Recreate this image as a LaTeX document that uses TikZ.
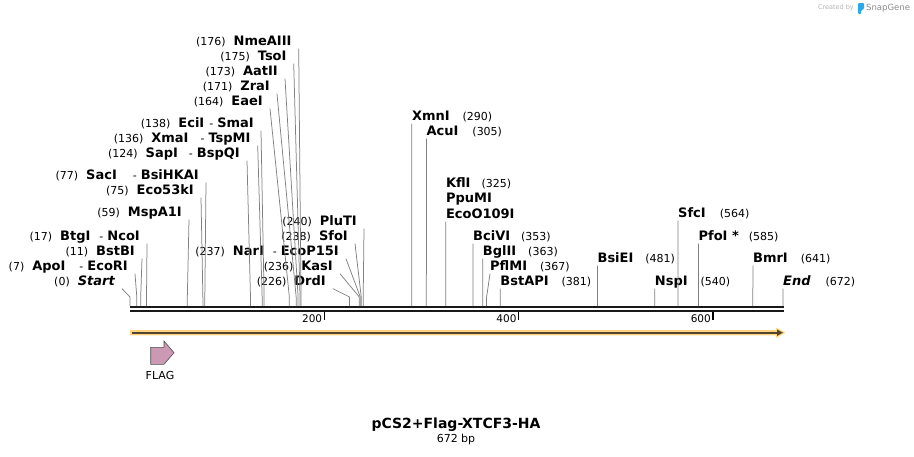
\documentclass[tikz,border=0pt]{standalone}
\usepackage{fontspec}
\setmainfont{DejaVu Sans}
\usepackage{tikz}
\usetikzlibrary{positioning}
\usetikzlibrary{arrows.meta}
\definecolor{cutgray}{RGB}{128,128,128}
\definecolor{featfill}{RGB}{255,211,128}
\definecolor{featline}{RGB}{85,68,45}
\definecolor{flagpink}{RGB}{204,153,180}
\definecolor{snapblue}{RGB}{40,170,230}
\newcommand{\enz}[1]{{\fontsize{13}{15}\selectfont\bfseries #1}}

\begin{document}
\begin{tikzpicture}[x=1pt, y=-1pt,
    lsite/.style={anchor=east, inner xsep=7pt, inner ysep=0pt,
        text height=10pt, text depth=3pt, font=\fontsize{11}{15}\selectfont},
    rsite/.style={anchor=west, inner xsep=0pt, inner ysep=0pt,
        text height=10pt, text depth=3pt, font=\fontsize{11}{15}\selectfont},
    cutline/.style={draw=cutgray, line width=0.75pt},
    ruler/.style={line width=2.4pt, black!90}
]
\useasboundingbox (0,0) rectangle (914,456);

% cut sites on the sequence (bp)
\foreach \p in {0,7,11,17,59,75,77,124,136,138,164,171,173,175,176,
                226,236,237,238,240,290,305,325,353,363,367,381,
                481,540,564,585,641,672} {
    \coordinate (s\p) at ({130+0.9717*\p},306);
    \coordinate (k\p) at ({130+0.9717*\p},297);
}

% sequence and ruler
\draw[ruler] (130,307.2) -- (783.5,307.2);
\draw[ruler] (130,311.2) -- (783.5,311.2);
\foreach \t in {200,400,600} {
    \draw[line width=1.4pt] ({130+0.9717*\t},312) -- ({130+0.9717*\t},320);
    \node[anchor=east, inner sep=1pt, font=\fontsize{10.5}{12}\selectfont]
        (tick\t) at ({130+0.9717*\t-1},318.5) {\t};
}

% enzymes, left of their cut
\node[lsite] (nmeaiii) at (298.7,42)  {(176)\hspace{8pt}\enz{NmeAIII}};
\node[lsite] (tsoi)    at (293.7,57)  {(175)\hspace{8pt}\enz{TsoI}};
\node[lsite] (aatii)   at (285,72)    {(173)\hspace{8pt}\enz{AatII}};
\node[lsite] (zrai)    at (277,87)    {(171)\hspace{8pt}\enz{ZraI}};
\node[lsite] (eaei)    at (270,102)   {(164)\hspace{8pt}\enz{EaeI}};
\node[lsite] (smai)    at (261,124)   {(138)\hspace{8pt}\enz{EciI}\hspace{5pt}-\hspace{4pt}\enz{SmaI}};
\node[lsite] (tspmi)   at (257.7,139) {(136)\hspace{8pt}\enz{XmaI}\hspace{12pt}-\hspace{4pt}\enz{TspMI}};
\node[lsite] (bspqi)   at (247,154)   {(124)\hspace{8pt}\enz{SapI}\hspace{11pt}-\hspace{4pt}\enz{BspQI}};
\node[lsite] (bsihkai) at (206,176)   {(77)\hspace{8pt}\enz{SacI}\hspace{16pt}-\hspace{4pt}\enz{BsiHKAI}};
\node[lsite] (eco53ki) at (201,191)   {(75)\hspace{8pt}\enz{Eco53kI}};
\node[lsite] (mspa1i)  at (189,213)   {(59)\hspace{8pt}\enz{MspA1I}};
\node[lsite] (ncoi)    at (147,237)   {(17)\hspace{8pt}\enz{BtgI}\hspace{9pt}-\hspace{4pt}\enz{NcoI}};
\node[lsite] (bstbi)   at (142,252)   {(11)\hspace{8pt}\enz{BstBI}};
\node[lsite] (ecori)   at (135,267)   {(7)\hspace{8pt}\enz{ApoI}\hspace{14pt}-\hspace{4pt}\enz{EcoRI}};
\node[lsite] (start)   at (122,282)   {(0)\hspace{8pt}\enz{\itshape Start}};

\node[lsite] (pluti)   at (364,222)   {(240)\hspace{8pt}\enz{PluTI}};
\node[lsite] (sfoi)    at (355,237)   {(238)\hspace{8pt}\enz{SfoI}};
\node[lsite] (ecop15i) at (346,252)   {(237)\hspace{8pt}\enz{NarI}\hspace{9pt}-\hspace{4pt}\enz{EcoP15I}};
\node[lsite] (kasi)    at (340,267)   {(236)\hspace{8pt}\enz{KasI}};
\node[lsite] (drdi)    at (333,282)   {(226)\hspace{8pt}\enz{DrdI}};

\foreach \n/\p in {nmeaiii/176,tsoi/175,aatii/173,zrai/171,eaei/164,
                   smai/138,tspmi/136,bspqi/124,bsihkai/77,eco53ki/75,
                   mspa1i/59,ncoi/17,bstbi/11,ecori/7,start/0,
                   pluti/240,sfoi/238,ecop15i/237,kasi/236,drdi/226}
    \draw[cutline] (\n.south east) -- (k\p) -- (s\p);

% enzymes, right of their cut
\node[rsite] (xmni)    at (411.8,117) {\enz{XmnI}\hspace{13pt}(290)};
\node[rsite] (acui)    at (426.4,132) {\enz{AcuI}\hspace{14pt}(305)};
\node[rsite] (kfli)    at (445.8,184) {\enz{KflI}\hspace{11pt}(325)};
\node[rsite, below=2pt of kfli.south west, anchor=north west] (ppumi) {\enz{PpuMI}};
\node[rsite, below=2pt of ppumi.south west, anchor=north west] (eco109i) {\enz{EcoO109I}};
\node[rsite] (bcivi)   at (473.0,237) {\enz{BciVI}\hspace{11pt}(353)};
\node[rsite] (bglii)   at (482.7,252) {\enz{BglII}\hspace{12pt}(363)};
\node[rsite] (pflmi)   at (490,267)   {\enz{PflMI}\hspace{13pt}(367)};
\node[rsite] (bstapi)  at (500.2,282) {\enz{BstAPI}\hspace{13pt}(381)};
\node[rsite] (bsiei)   at (597.4,259) {\enz{BsiEI}\hspace{12pt}(481)};
\node[rsite] (nspi)    at (654.7,282) {\enz{NspI}\hspace{13pt}(540)};
\node[rsite] (sfci)    at (678.0,214) {\enz{SfcI}\hspace{14pt}(564)};
\node[rsite] (pfoi)    at (698.4,237) {\enz{PfoI *}\hspace{10pt}(585)};
\node[rsite] (bmri)    at (752.9,259) {\enz{BmrI}\hspace{13pt}(641)};
\node[rsite] (endsite) at (783.0,282) {\enz{\itshape End}\hspace{15pt}(672)};

\foreach \n/\p in {xmni/290,acui/305,eco109i/325,bcivi/353,bglii/363,
                   pflmi/367,bstapi/381,bsiei/481,nspi/540,sfci/564,
                   pfoi/585,bmri/641,endsite/672}
    \draw[cutline] (\n.south west) -- (k\p) -- (s\p);

% open reading frame
\fill[featfill] (130,330) -- (776,330) -- (776,327.5) -- (785.5,332.7)
    -- (776,338) -- (776,335.4) -- (130,335.4) -- cycle;
\draw[featline, line width=1.7pt, -{Triangle[length=6pt,width=6pt]}]
    (132,332.7) -- (783,332.7);

% features
\draw[draw=black!70, fill=flagpink, line width=0.6pt]
    (150.7,347.3) -- (164,347.3) -- (164,341) -- (174,352.7)
    -- (164,364.3) -- (150.7,364.3) -- cycle;
\node[font=\fontsize{11}{13}\selectfont] (flag) at (160,375) {FLAG};

% title
\node[inner sep=0pt, font=\fontsize{14}{16}\selectfont\bfseries] (title) at (456,425) {pCS2+Flag-XTCF3-HA};
\node[inner sep=0pt, font=\fontsize{11}{13}\selectfont, below=2pt of title] (size) {672 bp};

% credit
\node[anchor=east, inner sep=0pt, text=black!30, font=\fontsize{6.5}{8}\selectfont] (created) at (854,8) {Created by};
\fill[snapblue, rounded corners=1pt] (858,3) -- (864,3) -- (864,9) -- (861,10.5) -- (861,14) -- (858,14) -- cycle;
\node[anchor=west, inner sep=0pt, text=black!45, font=\fontsize{8.5}{10}\selectfont] (snapgene) at (866,8) {SnapGene};
\end{tikzpicture}
\end{document}
